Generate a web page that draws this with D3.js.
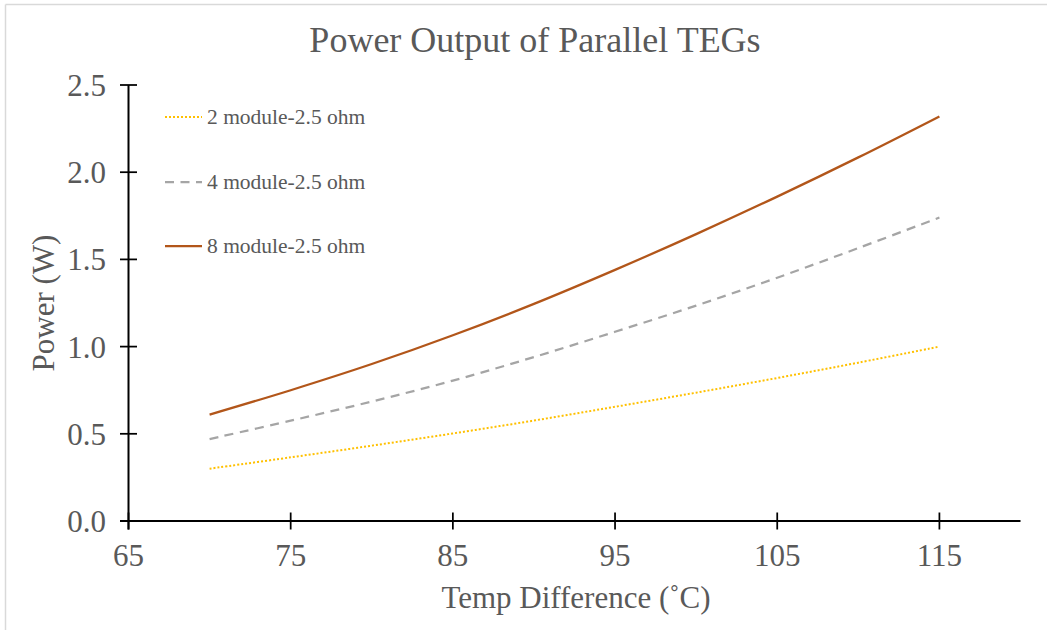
<!DOCTYPE html>
<html>
<head>
<meta charset="utf-8">
<script src="https://cdn.jsdelivr.net/npm/d3@7"></script>
<style>
  html, body { margin: 0; padding: 0; background: #fff; }
  svg { display: block; }
  text { font-family: "Liberation Serif", "Times New Roman", serif; }
</style>
</head>
<body>
<svg id="chart" width="1047" height="630"></svg>
<script>
const temps = [70, 75, 80, 85, 90, 95, 100, 105, 110, 115];
const series2 = [0.30, 0.365, 0.432, 0.502, 0.576, 0.655, 0.736, 0.82, 0.908, 1.00];
const series4 = [0.47, 0.575, 0.685, 0.805, 0.94, 1.085, 1.235, 1.395, 1.565, 1.74];
const series8 = [0.61, 0.75, 0.90, 1.065, 1.245, 1.44, 1.645, 1.86, 2.085, 2.32];
const seriesNames = ["2 module-2.5 ohm", "4 module-2.5 ohm", "8 module-2.5 ohm"];
const xTicks = [65, 75, 85, 95, 105, 115];
const yTicks = [0, 0.5, 1.0, 1.5, 2.0, 2.5];
const titleText = "Power Output of Parallel TEGs";
const xTitle = "Temp Difference (˚C)";
const yTitle = "Power (W)";

const svg = d3.select("#chart");
const W = 1047, H = 630;

// chart border (top & left visible)
svg.append("line").attr("x1", 5.5).attr("y1", 4.5).attr("x2", W).attr("y2", 4.5)
  .attr("stroke", "#d9d9d9").attr("stroke-width", 1.5);
svg.append("line").attr("x1", 5.5).attr("y1", 4.5).attr("x2", 5.5).attr("y2", H)
  .attr("stroke", "#d9d9d9").attr("stroke-width", 1.5);

const x = d3.scaleLinear().domain([65, 120]).range([128.5, 1020.5]);
const y = d3.scaleLinear().domain([0, 2.5]).range([521, 85]);

const styles = [
  { color: "#FFC000", width: 2, dash: "2,2" },
  { color: "#A5A5A5", width: 2.25, dash: "9,6.5" },
  { color: "#B2561A", width: 2.25, dash: null }
];
const allSeries = [series2, series4, series8];

// axes
const tickLen = 8.5;
const xAxisG = svg.append("g");
xAxisG.append("line").attr("x1", x(65) - tickLen).attr("x2", x(120)).attr("y1", y(0)).attr("y2", y(0))
  .attr("stroke", "#000").attr("stroke-width", 2);
xAxisG.selectAll("line.tick").data(xTicks).enter().append("line")
  .attr("x1", d => x(d)).attr("x2", d => x(d))
  .attr("y1", y(0) - tickLen).attr("y2", y(0) + tickLen)
  .attr("stroke", "#000").attr("stroke-width", 1.75);
xAxisG.selectAll("text").data(xTicks).enter().append("text")
  .attr("x", d => x(d)).attr("y", 566)
  .attr("text-anchor", "middle").attr("font-size", 31).attr("fill", "#595959")
  .text(d => d);

const yAxisG = svg.append("g");
yAxisG.append("line").attr("x1", x(65)).attr("x2", x(65)).attr("y1", y(0) + tickLen).attr("y2", y(2.5))
  .attr("stroke", "#000").attr("stroke-width", 2);
yAxisG.selectAll("line.tick").data(yTicks).enter().append("line")
  .attr("x1", x(65) - tickLen).attr("x2", x(65) + tickLen)
  .attr("y1", d => y(d)).attr("y2", d => y(d))
  .attr("stroke", "#000").attr("stroke-width", 1.75);
yAxisG.selectAll("text").data(yTicks).enter().append("text")
  .attr("x", 106).attr("y", d => y(d) + 11)
  .attr("text-anchor", "end").attr("font-size", 31).attr("fill", "#595959")
  .text(d => d3.format(".1f")(d));

// titles
svg.append("text").attr("x", 535).attr("y", 52).attr("text-anchor", "middle")
  .attr("font-size", 36).attr("fill", "#595959").text(titleText);
svg.append("text").attr("x", 576).attr("y", 608).attr("text-anchor", "middle")
  .attr("font-size", 31).attr("fill", "#595959").text(xTitle);
svg.append("text").attr("transform", "translate(54,303) rotate(-90)").attr("text-anchor", "middle")
  .attr("font-size", 31).attr("fill", "#595959").text(yTitle);

// lines
const lineGen = d3.line().x(d => x(d[0])).y(d => y(d[1])).curve(d3.curveCatmullRom.alpha(0.5));
allSeries.forEach((s, i) => {
  const pts = temps.map((t, j) => [t, s[j]]);
  const p = svg.append("path").datum(pts).attr("d", lineGen)
    .attr("fill", "none").attr("stroke", styles[i].color).attr("stroke-width", styles[i].width);
  if (styles[i].dash) p.attr("stroke-dasharray", styles[i].dash);
});

// legend
const legendY = [117, 182, 246];
seriesNames.forEach((name, i) => {
  const l = svg.append("line").attr("x1", 165).attr("x2", 202)
    .attr("y1", legendY[i]).attr("y2", legendY[i])
    .attr("stroke", styles[i].color).attr("stroke-width", styles[i].width);
  if (styles[i].dash) l.attr("stroke-dasharray", styles[i].dash);
  svg.append("text").attr("x", 207).attr("y", legendY[i] + 7)
    .attr("font-size", 21.5).attr("fill", "#595959").text(name);
});
</script>
</body>
</html>
